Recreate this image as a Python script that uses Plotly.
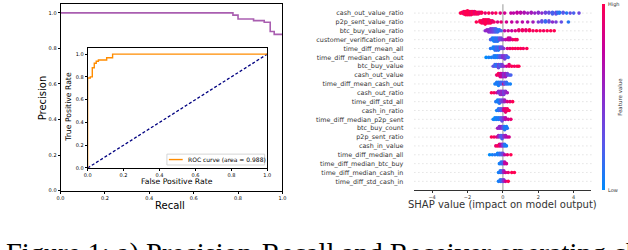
import numpy as np
import plotly.graph_objects as go

W, H = 628, 250

# ---------------- Precision-Recall data ----------------
pr_recall = [0.0, 0.777, 0.80, 0.87, 0.918, 0.945, 0.963, 1.0]
pr_precision = [1.0, 0.987, 0.965, 0.956, 0.947, 0.895, 0.879, 0.879]

# ---------------- ROC data ----------------
roc_fpr = [0.0, 0.0, 0.015, 0.026, 0.037, 0.048, 0.06, 0.106, 0.139, 1.0]
roc_tpr = [0.0, 0.79, 0.80, 0.88, 0.92, 0.937, 0.948, 0.968, 1.0, 1.0]
roc_auc = 0.988
chance_x = [0.0, 1.0]
chance_y = [0.0, 1.0]

pr_ticks = [0.0, 0.2, 0.4, 0.6, 0.8, 1.0]
pr_tick_labels = ["0.0", "0.2", "0.4", "0.6", "0.8", "1.0"]

# ---------------- SHAP summary data ----------------
features = [
    "cash_out_value_ratio", "p2p_sent_value_ratio", "btc_buy_value_ratio",
    "customer_verification_ratio", "time_diff_mean_all", "time_diff_median_cash_out",
    "btc_buy_value", "cash_out_value", "time_diff_mean_cash_out", "cash_out_ratio",
    "time_diff_std_all", "cash_in_ratio", "time_diff_median_p2p_sent", "btc_buy_count",
    "p2p_sent_ratio", "cash_in_value", "time_diff_median_all", "time_diff_median_btc_buy",
    "time_diff_median_cash_in", "time_diff_std_cash_in",
]
shap_ticks = [-4, -2, 0, 2, 4]
shap_tick_labels = ["\u22124", "\u22122", "0", "2", "4"]

# each entry: (shap value, normalised feature value, number of samples at that value)
s_cash_out_value_ratio = [(-2.4, 1, 1), (-2.3, 1, 2), (-2.2, .95, 4), (-2.1, 1, 5), (-2.0, 1, 6), (-1.9, 1, 5),
    (-1.8, .95, 5), (-1.7, 1, 4), (-1.6, .9, 4), (-1.5, 1, 3), (-1.4, .95, 3), (-1.3, .9, 2), (-1.2, 1, 2),
    (-1.0, .9, 1), (-0.8, 1, 1), (-0.6, .9, 1), (-0.4, 1, 1), (-0.15, .85, 1), (0.1, .8, 1), (0.45, .75, 1),
    (0.6, .7, 1), (0.8, .75, 2), (1.0, .7, 2), (1.2, .65, 2), (1.4, .6, 1), (1.6, .6, 2), (1.8, .55, 1),
    (2.0, .5, 2), (2.2, .5, 1), (2.4, .35, 2), (2.6, .3, 2), (2.8, .2, 3), (3.0, .3, 3), (3.1, .15, 2),
    (3.2, .1, 2), (3.4, .25, 2), (3.6, .1, 1), (3.8, .3, 1), (4.0, .2, 1), (4.3, .35, 1)]
s_p2p_sent_value_ratio = [(-1.5, 1, 1), (-1.3, 1, 2), (-1.2, 1, 3), (-1.1, .95, 4), (-1.0, 1, 5), (-0.9, 1, 4),
    (-0.8, .95, 4), (-0.7, 1, 3), (-0.6, .9, 2), (-0.5, .95, 1), (-0.3, .85, 1), (-0.1, .9, 1), (0.2, .8, 1),
    (0.5, .75, 1), (0.8, .7, 1), (1.1, .7, 1), (1.4, .65, 1), (1.7, .6, 1), (2.0, .4, 1), (2.2, .3, 2),
    (2.4, .15, 2), (2.6, .3, 2), (2.8, .5, 1), (3.0, .4, 1), (3.3, .3, 1), (3.7, .1, 1)]
s_btc_buy_value_ratio = [(-1.0, .5, 1), (-0.9, .55, 2), (-0.8, .5, 3), (-0.7, .45, 4), (-0.6, .4, 4), (-0.5, .3, 4),
    (-0.4, .2, 4), (-0.3, .15, 3), (-0.2, .1, 2), (-0.1, .2, 1), (0.1, .7, 1), (0.3, .8, 1), (0.5, .75, 1),
    (0.7, .85, 1), (0.9, .9, 2), (1.1, .95, 2), (1.3, .9, 2), (1.5, 1, 2), (1.7, .95, 1), (1.9, 1, 1),
    (2.1, 1, 1), (2.3, .95, 1), (2.5, 1, 1), (2.7, 1, 1), (2.9, 1, 1)]
s_customer_verification_ratio = [(-0.7, .2, 1), (-0.6, .1, 2), (-0.5, .05, 3), (-0.4, .15, 3), (-0.3, .1, 3),
    (-0.2, .3, 2), (-0.1, .35, 2), (0.0, .5, 1), (0.15, .7, 1), (0.3, .8, 2), (0.4, .75, 2), (0.55, .9, 1),
    (0.7, 1, 1), (0.8, .95, 1)]
s_time_diff_mean_all = [(-0.7, .1, 1), (-0.55, .05, 2), (-0.45, .1, 3), (-0.35, .2, 3), (-0.25, .1, 3),
    (-0.15, .35, 2), (-0.05, .3, 2), (0.05, .45, 1), (0.25, .85, 1), (0.4, .9, 1), (0.55, 1, 1), (0.7, .95, 1),
    (0.85, 1, 1), (1.0, 1, 1), (1.15, .95, 1), (1.35, 1, 1)]
s_time_diff_median_cash_out = [(-0.95, 0, 1), (-0.8, .05, 1), (-0.65, .05, 1), (-0.5, .1, 2), (-0.4, .05, 2),
    (-0.3, .1, 2), (-0.2, .2, 2), (-0.1, .3, 2), (0.0, .5, 2), (0.1, .4, 3), (0.2, .3, 2), (0.3, .15, 1)]
s_btc_buy_value = [(-0.55, .3, 1), (-0.45, .2, 2), (-0.35, .1, 2), (-0.25, .35, 3), (-0.15, .2, 2), (-0.05, .4, 2),
    (0.05, .5, 1), (0.2, .8, 1), (0.35, .9, 2), (0.5, 1, 1), (0.65, .95, 1), (0.8, 1, 1), (0.9, 1, 1)]
s_cash_out_value = [(-0.35, .9, 1), (-0.25, 1, 2), (-0.15, .85, 3), (-0.05, .7, 3), (0.05, .5, 3), (0.15, .6, 3),
    (0.25, .4, 2), (0.35, .3, 1), (0.45, .2, 1)]
s_time_diff_mean_cash_out = [(-0.45, .05, 1), (-0.35, .1, 2), (-0.25, .05, 3), (-0.15, .15, 2), (-0.05, .2, 2),
    (0.05, .9, 1), (0.1, .3, 2), (0.2, .15, 2), (0.3, .1, 1), (0.42, .05, 1)]
s_cash_out_ratio = [(-0.65, 1, 1), (-0.5, .95, 1), (-0.35, .8, 1), (-0.25, .5, 2), (-0.15, .45, 3), (-0.05, .55, 3),
    (0.05, .4, 3), (0.15, .5, 2), (0.25, .6, 1)]
s_time_diff_std_all = [(-0.4, .1, 1), (-0.3, .05, 2), (-0.2, .1, 3), (-0.1, .3, 2), (0.0, .4, 2), (0.1, .6, 2),
    (0.25, .85, 1), (0.4, .9, 1), (0.55, 1, 1)]
s_cash_in_ratio = [(-0.35, .05, 1), (-0.25, .1, 2), (-0.15, .2, 2), (-0.05, .3, 2), (0.05, .8, 2), (0.15, .9, 3),
    (0.25, .95, 2), (0.35, 1, 1)]
s_time_diff_median_p2p_sent = [(-0.55, .05, 1), (-0.45, 0, 2), (-0.35, .1, 2), (-0.25, .05, 2), (-0.15, .15, 2),
    (-0.05, .3, 3), (0.05, .5, 2), (0.15, .7, 2), (0.3, .8, 1), (0.45, .9, 1)]
s_btc_buy_count = [(-0.3, .6, 1), (-0.2, .5, 2), (-0.1, .55, 2), (0.0, .3, 2), (0.1, .1, 3), (0.2, .05, 2),
    (0.25, .1, 1)]
s_p2p_sent_ratio = [(-0.65, 1, 1), (-0.5, .95, 1), (-0.35, .85, 1), (-0.25, .6, 2), (-0.15, .3, 2), (-0.05, .2, 3),
    (0.05, .45, 2), (0.15, .6, 2), (0.25, .7, 1), (0.35, .8, 1)]
s_cash_in_value = [(-0.4, .9, 1), (-0.3, 1, 1), (-0.2, .9, 2), (-0.1, .7, 2), (0.0, .4, 2), (0.1, .1, 2),
    (0.2, .05, 1)]
s_time_diff_median_all = [(-0.75, 0, 1), (-0.6, .05, 1), (-0.45, .1, 1), (-0.3, .05, 2), (-0.2, .1, 2),
    (-0.1, .2, 2), (0.0, .35, 2), (0.1, .7, 1), (0.25, .9, 1), (0.45, 1, 1)]
s_time_diff_median_btc_buy = [(-0.2, .05, 1), (-0.1, .1, 2), (0.0, .2, 2), (0.1, .7, 2), (0.2, .8, 1)]
s_time_diff_median_cash_in = [(-0.25, .05, 1), (-0.15, .1, 2), (-0.05, .2, 2), (0.05, .6, 2), (0.15, .8, 1),
    (0.3, .9, 1), (0.5, 1, 1), (0.65, 1, 1)]
s_time_diff_std_cash_in = [(-0.25, .05, 1), (-0.15, .1, 2), (-0.05, .2, 2), (0.05, .5, 2), (0.15, .8, 1),
    (0.3, 1, 1)]

shap_rows = [
    s_cash_out_value_ratio, s_p2p_sent_value_ratio, s_btc_buy_value_ratio, s_customer_verification_ratio,
    s_time_diff_mean_all, s_time_diff_median_cash_out, s_btc_buy_value, s_cash_out_value,
    s_time_diff_mean_cash_out, s_cash_out_ratio, s_time_diff_std_all, s_cash_in_ratio,
    s_time_diff_median_p2p_sent, s_btc_buy_count, s_p2p_sent_ratio, s_cash_in_value,
    s_time_diff_median_all, s_time_diff_median_btc_buy, s_time_diff_median_cash_in, s_time_diff_std_cash_in,
]

shap_colorscale = [[0.0, "#008bfb"], [0.25, "#5a57ea"], [0.5, "#8b2ccd"], [0.75, "#c4009e"], [1.0, "#ff0052"]]


def swarm_offsets(xs, row_height=0.4, nbins=100):
    """Beeswarm stacking like shap.summary_plot (deterministic)."""
    xs = np.asarray(xs, dtype=float)
    lo, hi = xs.min(), xs.max()
    quant = np.round(nbins * (xs - lo) / (hi - lo + 1e-8))
    order = np.argsort(quant, kind="stable")
    ys = np.zeros(len(xs))
    layer, last = 0, -1
    for i in order:
        if quant[i] != last:
            layer = 0
        ys[i] = np.ceil(layer / 2) * ((layer % 2) * 2 - 1)
        layer += 1
        last = quant[i]
    ys *= 0.9 * (row_height / np.max(ys + 1))
    return ys


n_feat = len(features)
sx, sy, sc = [], [], []
for k, row in enumerate(shap_rows):
    pos = n_feat - 1 - k
    xs, cs = [], []
    for (v, c, n) in row:
        xs += [v] * n
        cs += [c] * n
    offs = swarm_offsets(xs)
    sx += xs
    sy += list(pos + offs)
    sc += cs

# ---------------- layout geometry (pixels -> paper) ----------------
def px(x):
    return x / W


def py(y):
    return (H - y) / H


fig = go.Figure()

# main PR plot
fig.add_trace(go.Scatter(x=pr_recall, y=pr_precision, mode="lines", line=dict(color="rgba(140,40,150,0.75)", width=1.6, shape="hv"),
                         xaxis="x", yaxis="y", showlegend=False, hoverinfo="skip"))
# inset ROC
fig.add_trace(go.Scatter(x=chance_x, y=chance_y, mode="lines", line=dict(color="navy", width=1.3, dash="3px,2px"),
                         xaxis="x2", yaxis="y2", showlegend=False, hoverinfo="skip"))
fig.add_trace(go.Scatter(x=roc_fpr, y=roc_tpr, mode="lines", line=dict(color="darkorange", width=1.4, shape="hv"),
                         xaxis="x2", yaxis="y2", showlegend=False))
# SHAP beeswarm
fig.add_trace(go.Scatter(
    x=sx, y=sy, mode="markers", xaxis="x3", yaxis="y3", showlegend=False,
    marker=dict(size=3.6, color=sc, cmin=0, cmax=1, colorscale=shap_colorscale, line=dict(width=0),
                showscale=True,
                colorbar=dict(x=px(605.5), xanchor="left", xpad=0, ypad=0, thicknessmode="pixels", thickness=3,
                              lenmode="fraction", len=(192.7 - 4) / H, y=py(98.3), yanchor="middle",
                              outlinewidth=0, showticklabels=False, ticks=""))))

tickfont_small = dict(family="DejaVu Sans", size=5, color="black")
shap_font = dict(family="DejaVu Sans", size=5, color="#333333")

fig.update_layout(
    width=W, height=H, margin=dict(l=0, r=0, t=0, b=0),
    paper_bgcolor="white", plot_bgcolor="white",
    xaxis=dict(domain=[px(57.3), px(282)], range=[0, 1], anchor="y", showline=True, mirror=True, linecolor="black",
               linewidth=1, ticks="outside", ticklen=2, tickwidth=0.6, tickcolor="black", tickvals=pr_ticks, ticktext=pr_tick_labels,
               tickfont=tickfont_small, showgrid=False, zeroline=False),
    yaxis=dict(domain=[py(193), py(4)], range=[0, 1.05], anchor="x", showline=True, mirror=True, linecolor="black",
               linewidth=1, ticks="outside", ticklen=2, tickwidth=0.6, tickcolor="black", tickvals=pr_ticks, ticktext=pr_tick_labels,
               tickfont=tickfont_small, showgrid=False, zeroline=False),
    xaxis2=dict(domain=[px(84.7), px(266.7)], range=[0, 1], anchor="y2", showline=True, mirror=True, linecolor="black",
                linewidth=1, ticks="outside", ticklen=2, tickwidth=0.6, tickcolor="black", tickvals=pr_ticks, ticktext=pr_tick_labels,
                tickfont=tickfont_small, showgrid=False, zeroline=False),
    yaxis2=dict(domain=[py(170), py(49)], range=[0, 1.05], anchor="x2", showline=True, mirror=True, linecolor="black",
                linewidth=1, ticks="outside", ticklen=2, tickwidth=0.6, tickcolor="black", tickvals=pr_ticks, ticktext=pr_tick_labels,
                tickfont=tickfont_small, showgrid=False, zeroline=False),
    xaxis3=dict(domain=[px(415.7), px(595)], range=[-5, 5], anchor="y3", showline=True, linecolor="#333333",
                linewidth=1, ticks="outside", ticklen=2, tickwidth=0.6, tickcolor="#333333", tickvals=shap_ticks,
                ticktext=shap_tick_labels, tickfont=shap_font, showgrid=False, zeroline=False),
    yaxis3=dict(domain=[py(192.5), py(4.3)], range=[-1, n_feat], anchor="x3", showline=False, ticks="",
                tickvals=list(range(n_feat - 1, -1, -1)), ticktext=features, ticklabelstandoff=10,
                tickfont=dict(family="DejaVu Sans", size=6.4, color="#333333"), showgrid=False, zeroline=False),
)

shapes = []
# dotted guide line for each feature row
for k in range(n_feat):
    shapes.append(dict(type="line", xref="x3 domain", yref="y3", x0=0, x1=1, y0=k, y1=k, layer="below",
                       line=dict(color="#cccccc", width=0.8, dash="1px,3px")))
# zero line
shapes.append(dict(type="line", xref="x3", yref="y3 domain", x0=0, x1=0, y0=0, y1=1, layer="below",
                   line=dict(color="#999999", width=1)))
# inset legend box
shapes.append(dict(type="rect", xref="paper", yref="paper", x0=px(165), x1=px(264), y0=py(167), y1=py(156),
                   line=dict(color="#cccccc", width=0.8), fillcolor="rgba(255,255,255,0.8)"))
shapes.append(dict(type="line", xref="paper", yref="paper", x0=px(167), x1=px(181), y0=py(161.5), y1=py(161.5),
                   line=dict(color="darkorange", width=1.4)))


def ann(text, x, y, size, color="black", angle=0, xanchor="center", yanchor="middle", family="DejaVu Sans"):
    return dict(text=text, x=px(x), y=py(y), xref="paper", yref="paper", xanchor=xanchor, yanchor=yanchor,
                textangle=angle, showarrow=False, font=dict(family=family, size=size, color=color))


annotations = [
    ann("ROC curve (area = %.3f)" % roc_auc, 184, 161.5, 6, xanchor="left"),
    ann("Precision", 39, 99, 10, angle=-90),
    ann("Recall", 168, 207.5, 10),
    ann("True Positive Rate", 66, 108, 7.7, angle=-90),
    ann("False Positive Rate", 175.7, 183.5, 7.7),
    ann("SHAP value (impact on model output)", 505, 207, 10, color="#333333"),
    ann("High", 610, 4.5, 5, color="#333333", xanchor="left"),
    ann("Low", 610, 192.5, 5, color="#333333", xanchor="left"),
    ann("Feature value", 624, 98, 5.5, color="#333333", angle=-90),
    ann("Figure 1: a) Precision-Recall and Receiver operating characteristic curves", 0, 239, 28.5,
        xanchor="left", yanchor="top", family="Liberation Serif"),
]

fig.update_layout(shapes=shapes, annotations=annotations)
fig.write_html("out.html", config={"displayModeBar": False},
               post_script="document.body.style.margin='0';document.body.style.padding='0';")
